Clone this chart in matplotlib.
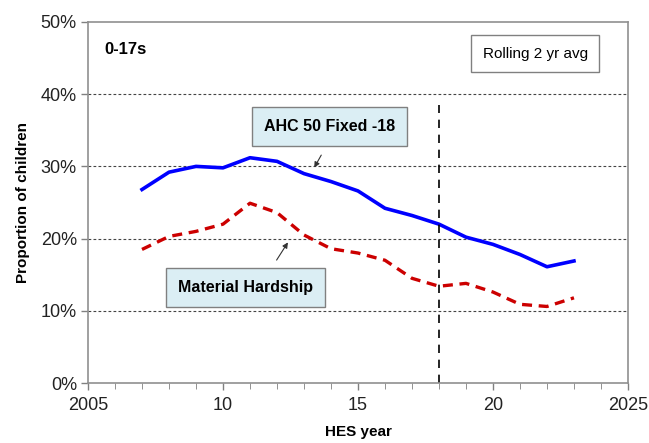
import matplotlib.pyplot as plt
from matplotlib.ticker import MultipleLocator, FuncFormatter

plt.rcParams['font.family'] = ['Liberation Sans', 'DejaVu Sans']

# data
years = list(range(2007, 2024))
ahc50 = [26.8, 29.2, 30.0, 29.8, 31.2, 30.7, 29.0, 27.9, 26.6, 24.2, 23.2, 22.0,
         20.2, 19.2, 17.8, 16.1, 16.9]
hardship = [18.5, 20.3, 21.0, 22.0, 24.9, 23.6, 20.5, 18.6, 18.0, 17.0, 14.5, 13.4,
            13.8, 12.6, 10.9, 10.6, 11.8]
break_year = 2018

fig = plt.figure(figsize=(6.49, 4.43), dpi=100)
ax = fig.add_axes([0.1356, 0.1354, 0.832, 0.815])

ax.plot(years, ahc50, color='#0000ff', lw=2.6, solid_joinstyle='round')
ax.plot(years, hardship, color='#cc0000', lw=2.4, dashes=(3, 2))
ax.axvline(break_year, ymax=0.77, color='black', lw=1.2, dashes=(5, 4))

ax.set_xlim(2005, 2025)
ax.set_ylim(0, 50)
ax.set_xticks([2005, 2010, 2015, 2020, 2025])
ax.set_xticklabels(['2005', '10', '15', '20', '2025'])
ax.xaxis.set_minor_locator(MultipleLocator(1))
ax.yaxis.set_major_locator(MultipleLocator(10))
ax.yaxis.set_major_formatter(FuncFormatter(lambda v, p: f'{v:.0f}%'))
ax.tick_params(axis='both', labelsize=13, color='#808080', length=5, width=1,
               direction='out', labelcolor='#222222')
ax.tick_params(axis='x', which='minor', length=4, color='#808080')
ax.tick_params(axis='x', pad=5)
ax.tick_params(axis='y', pad=3)

for y in [10, 20, 30, 40]:
    ax.axhline(y, color='#444444', lw=0.8, dashes=(2.5, 2), zorder=0)
for s in ax.spines.values():
    s.set_color('#909090')
    s.set_linewidth(1.2)

ax.set_ylabel('Proportion of children', fontsize=11, fontweight='bold', labelpad=8)
ax.set_xlabel('HES year', fontsize=11, fontweight='bold', labelpad=8)

ax.text(2005.6, 46.2, '0-17s', fontsize=12, fontweight='bold', va='center')
ax.text(2021.56, 45.6, 'Rolling 2 yr avg', fontsize=11, ha='center', va='center',
        bbox=dict(boxstyle='square,pad=0.75', fc='white', ec='#808080', lw=1))

blue_box = dict(boxstyle='square,pad=0.75', fc='#dbeef4', ec='#808080', lw=1)
ax.text(2013.96, 35.5, 'AHC 50 Fixed -18', fontsize=11.5, fontweight='bold',
        ha='center', va='center', bbox=blue_box)
ax.text(2010.85, 13.2, 'Material Hardship', fontsize=11.5, fontweight='bold',
        ha='center', va='center', bbox=blue_box)

ax.annotate('', xy=(2013.33, 29.5), xytext=(2013.69, 31.9),
            arrowprops=dict(arrowstyle='-|>', color='#333333', lw=0.8, mutation_scale=8))
ax.annotate('', xy=(2012.46, 19.8), xytext=(2011.93, 16.7),
            arrowprops=dict(arrowstyle='-|>', color='#333333', lw=0.8, mutation_scale=8))

fig.savefig('out.png', dpi=100)
